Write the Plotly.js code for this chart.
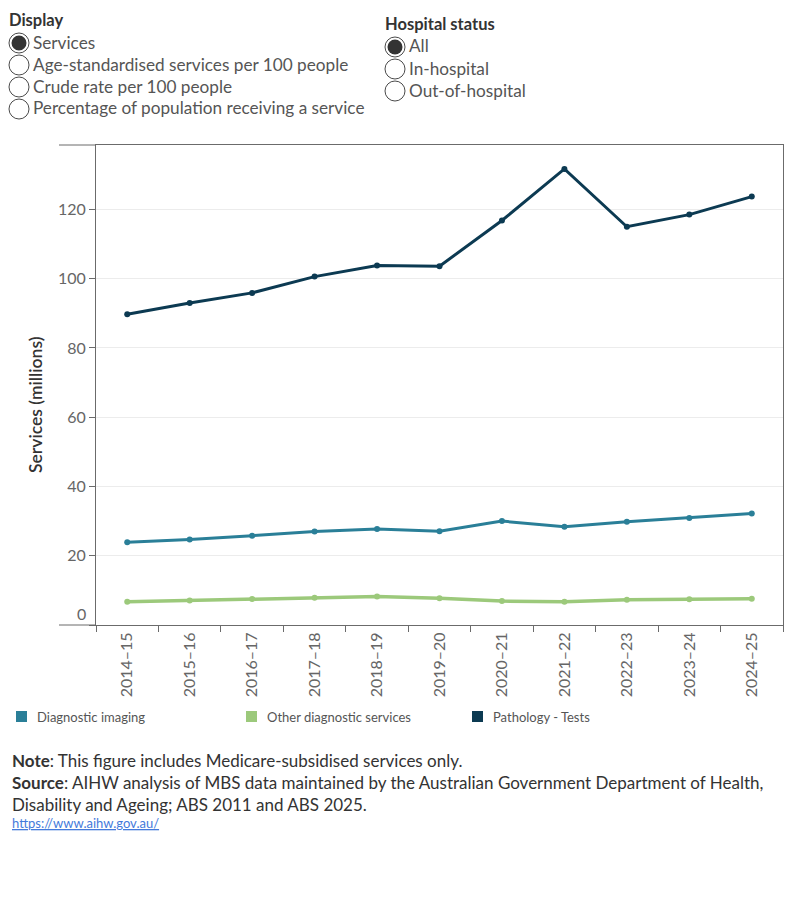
<!DOCTYPE html>
<html>
<head>
<meta charset="utf-8">
<script src="https://cdn.plot.ly/plotly-3.0.1.min.js"></script>
<style>
  html, body { margin: 0; padding: 0; background: #fff; }
  #chart { width: 800px; height: 900px; }
</style>
</head>
<body>
<div id="chart"></div>
<script>
// Financial years shown on the category axis
const years = ['2014–15', '2015–16', '2016–17', '2017–18', '2018–19', '2019–20',
               '2020–21', '2021–22', '2022–23', '2023–24', '2024–25'];

// Medicare-subsidised services, millions
const diagnosticImaging = [23.9, 24.7, 25.8, 27.0, 27.7, 27.1, 30.0, 28.4, 29.8, 30.9, 32.2];
const otherDiagnostic   = [6.7, 7.1, 7.5, 7.9, 8.2, 7.7, 6.9, 6.7, 7.3, 7.4, 7.6];
const pathologyTests    = [89.7, 93.0, 95.9, 100.6, 103.8, 103.6, 116.8, 131.7, 115.0, 118.5, 123.7];

const seriesNames  = ['Diagnostic imaging', 'Other diagnostic services', 'Pathology - Tests'];
const seriesColors = ['#2a7f98', '#9cc97b', '#0c3a52'];

const yTicks = [0, 20, 40, 60, 80, 100, 120];

const displayOptions  = ['Services', 'Age-standardised services per 100 people',
                         'Crude rate per 100 people', 'Percentage of population receiving a service'];
const hospitalOptions = ['All', 'In-hospital', 'Out-of-hospital'];

// Plot area in page pixels
const W = 800, H = 900;
const L = 96, R = 783, T = 145, B = 625;
const px = x => (x - L) / (R - L);
const py = y => (B - y) / (B - T);

const TXT = '#555555';
const FONT = 'Lato, "Open Sans", sans-serif';

function lineTrace(values, i) {
  return {
    type: 'scatter', mode: 'lines+markers',
    x: years, y: values, name: seriesNames[i],
    line: { color: seriesColors[i], width: i === 1 ? 3.5 : 3 },
    marker: { color: seriesColors[i], size: 6 },
    showlegend: false,
    hovertemplate: '%{x}: %{y:.1f}m<extra>' + seriesNames[i] + '</extra>'
  };
}

const traces = [
  lineTrace(otherDiagnostic, 1),
  lineTrace(diagnosticImaging, 0),
  lineTrace(pathologyTests, 2)
];

const shapes = [];
const annotations = [];

// Frame extensions into the axis gutter (top and bottom rules)
[T, B].forEach(yy => shapes.push({
  type: 'line', xref: 'paper', yref: 'paper',
  x0: px(59), x1: px(L), y0: py(yy), y1: py(yy),
  line: { color: '#6b6b6b', width: 1 }
}));

// Radio-button control groups
function radioGroup(title, options, titleX, titleY, cx, cy0, step, selected) {
  annotations.push({
    xref: 'paper', yref: 'paper', x: px(titleX), y: py(titleY),
    xanchor: 'left', yanchor: 'middle', showarrow: false,
    text: '<b>' + title + '</b>', font: { family: FONT, size: 16.5, color: '#333333' }
  });
  options.forEach((opt, k) => {
    const cy = cy0 + k * step, r = 10;
    shapes.push({
      type: 'circle', xref: 'paper', yref: 'paper',
      x0: px(cx - r), x1: px(cx + r), y0: py(cy + r), y1: py(cy - r),
      line: { color: '#4a4a4a', width: 1 }, fillcolor: '#ffffff'
    });
    if (k === selected) {
      const ri = 7.5;
      shapes.push({
        type: 'circle', xref: 'paper', yref: 'paper',
        x0: px(cx - ri), x1: px(cx + ri), y0: py(cy + ri), y1: py(cy - ri),
        line: { width: 0 }, fillcolor: '#333333'
      });
    }
    annotations.push({
      xref: 'paper', yref: 'paper', x: px(cx + 12), y: py(cy - 1),
      xanchor: 'left', yanchor: 'middle', showarrow: false,
      text: opt, font: { family: FONT, size: 17.2, color: TXT }
    });
  });
}
radioGroup('Display', displayOptions, 7, 20, 19, 43, 22, 0);
radioGroup('Hospital status', hospitalOptions, 383, 24, 395, 47, 22, 0);

// "0" label sits just above the baseline
annotations.push({
  xref: 'paper', yref: 'y', x: px(88), y: 0, yshift: 12,
  xanchor: 'right', yanchor: 'middle', showarrow: false,
  text: '0', font: { family: FONT, size: 16, color: '#666666' }
});

// Y-axis title, centred a little below the middle of the pane
annotations.push({
  xref: 'paper', yref: 'paper', x: px(35), y: py(405),
  xanchor: 'center', yanchor: 'middle', showarrow: false, textangle: -90,
  text: 'Services (millions)',
  font: { family: FONT, size: 17.5, color: '#333333', weight: 600 }
});

// Legend with square swatches
const legendX = [16, 246, 472];
seriesNames.forEach((name, i) => {
  shapes.push({
    type: 'rect', xref: 'paper', yref: 'paper',
    x0: px(legendX[i]), x1: px(legendX[i] + 11), y0: py(722), y1: py(711),
    line: { width: 0 }, fillcolor: seriesColors[i]
  });
  annotations.push({
    xref: 'paper', yref: 'paper', x: px(legendX[i] + 19), y: py(717),
    xanchor: 'left', yanchor: 'middle', showarrow: false,
    text: name, font: { family: FONT, size: 13, color: TXT }
  });
});

// Notes and source
const noteLines = [
  ['<b>Note</b>: This figure includes Medicare-subsidised services only.', 760],
  ['<b>Source</b>: AIHW analysis of MBS data maintained by the Australian Government Department of Health,', 782],
  ['Disability and Ageing; ABS 2011 and ABS 2025.', 804]
];
noteLines.forEach(([t, yy]) => annotations.push({
  xref: 'paper', yref: 'paper', x: px(10), y: py(yy),
  xanchor: 'left', yanchor: 'middle', showarrow: false,
  text: t, font: { family: FONT, size: 17, color: '#333333' }
}));
annotations.push({
  xref: 'paper', yref: 'paper', x: px(10), y: py(823),
  xanchor: 'left', yanchor: 'middle', showarrow: false,
  text: '<a href="https://www.aihw.gov.au/"><span style="text-decoration:underline">https://www.aihw.gov.au/</span></a>',
  font: { family: FONT, size: 13, color: '#6aa9d0' }
});

const layout = {
  width: W, height: H,
  margin: { l: L, r: W - R, t: T, b: H - B, pad: 0 },
  paper_bgcolor: '#ffffff', plot_bgcolor: '#ffffff',
  font: { family: FONT, color: TXT },
  showlegend: false,
  xaxis: {
    type: 'category', categoryarray: years, range: [-0.5, years.length - 0.5],
    tickson: 'boundaries', ticks: 'outside', ticklen: 6, tickcolor: '#6b6b6b',
    tickangle: -90, tickfont: { family: FONT, size: 16, color: '#666666' },
    showline: true, linecolor: '#6b6b6b', linewidth: 1, mirror: true,
    showgrid: false, zeroline: false, fixedrange: true
  },
  yaxis: {
    range: [0, 138.6], tickvals: yTicks,
    ticktext: yTicks.map(v => v === 0 ? '' : String(v)),
    ticks: 'outside', ticklen: 6, tickcolor: '#6b6b6b',
    tickfont: { family: FONT, size: 16, color: '#666666' },
    showline: true, linecolor: '#6b6b6b', linewidth: 1, mirror: true,
    showgrid: true, gridcolor: '#ececec', gridwidth: 1, zeroline: false,
    fixedrange: true
  },
  shapes: shapes,
  annotations: annotations
};

Plotly.newPlot('chart', traces, layout, { displayModeBar: false });
</script>
</body>
</html>
